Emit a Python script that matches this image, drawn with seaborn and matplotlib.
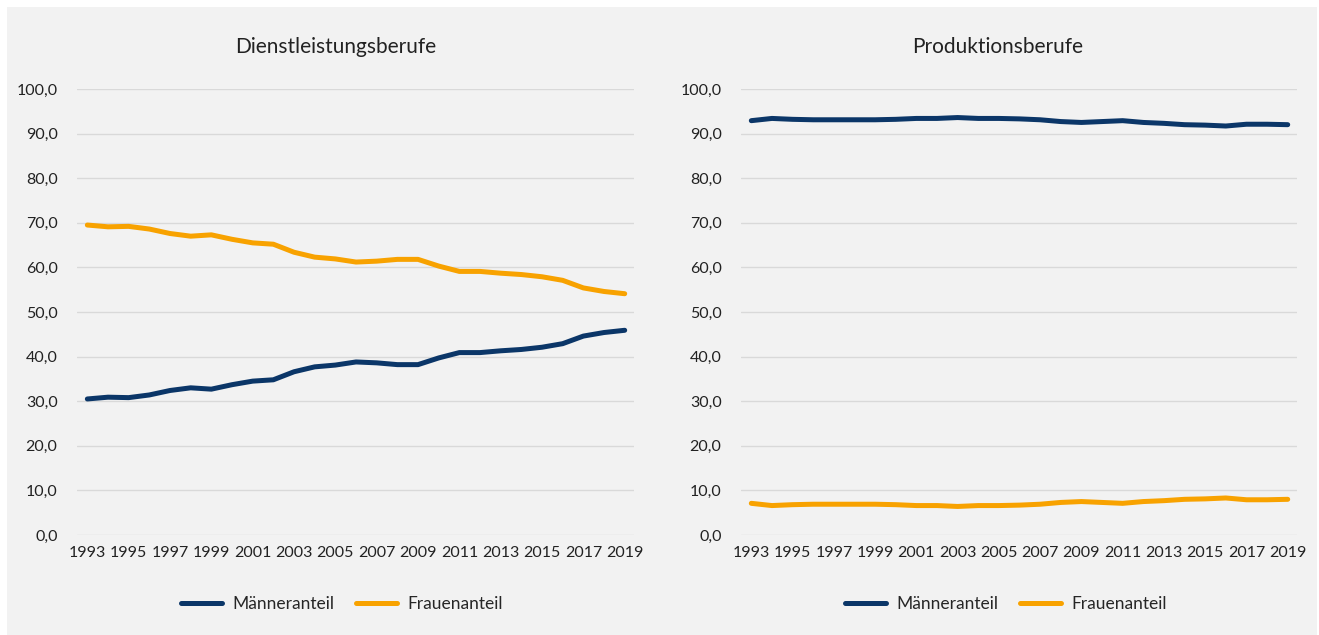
import numpy as np
import pandas as pd
import seaborn as sns
import matplotlib.pyplot as plt
from matplotlib.patches import Rectangle

# Data
years = list(range(1993, 2020))

dienst_maenner = [30.5, 30.9, 30.8, 31.4, 32.4, 33.0, 32.7, 33.7, 34.5, 34.8,
                  36.6, 37.7, 38.1, 38.8, 38.6, 38.2, 38.2, 39.7, 40.9, 40.9,
                  41.3, 41.6, 42.1, 42.9, 44.6, 45.4, 45.9]
dienst_frauen = [69.5, 69.1, 69.2, 68.6, 67.6, 67.0, 67.3, 66.3, 65.5, 65.2,
                 63.4, 62.3, 61.9, 61.2, 61.4, 61.8, 61.8, 60.3, 59.1, 59.1,
                 58.7, 58.4, 57.9, 57.1, 55.4, 54.6, 54.1]

prod_maenner = [92.9, 93.4, 93.2, 93.1, 93.1, 93.1, 93.1, 93.2, 93.4, 93.4,
                93.6, 93.4, 93.4, 93.3, 93.1, 92.7, 92.5, 92.7, 92.9, 92.5,
                92.3, 92.0, 91.9, 91.7, 92.1, 92.1, 92.0]
prod_frauen = [7.1, 6.6, 6.8, 6.9, 6.9, 6.9, 6.9, 6.8, 6.6, 6.6,
               6.4, 6.6, 6.6, 6.7, 6.9, 7.3, 7.5, 7.3, 7.1, 7.5,
               7.7, 8.0, 8.1, 8.3, 7.9, 7.9, 8.0]

series_names = ['Männeranteil', 'Frauenanteil']
panel_titles = ['Dienstleistungsberufe', 'Produktionsberufe']
color_palette = ['#0b3668', '#f8a200']

########################################################################

def make_long(maenner, frauen):
    df = pd.DataFrame({'Jahr': years * 2,
                       'Anteil': maenner + frauen,
                       'Gruppe': [series_names[0]] * len(years) + [series_names[1]] * len(years)})
    return df

df_dienst = make_long(dienst_maenner, dienst_frauen)
df_prod = make_long(prod_maenner, prod_frauen)

sns.set_style('white')
plt.rcParams['font.family'] = ['Lato', 'DejaVu Sans']

fig = plt.figure(figsize=(13.19, 6.35), dpi=100, facecolor='white')
# gray background behind both panels
fig.add_artist(Rectangle((7/1319, 0), 1310/1319, 628/635, transform=fig.transFigure,
                         facecolor='#f2f2f2', edgecolor='none', zorder=0))

ax_positions = [[77/1319, 1-535/635, 557/1319, 446/635],
                [741/1319, 1-535/635, 556/1319, 446/635]]
legend_x = [342/1319, 1006/1319]
title_x = [336/1319, 998/1319]

for idx, (df, title) in enumerate(zip([df_dienst, df_prod], panel_titles)):
    ax = fig.add_axes(ax_positions[idx])
    ax.set_facecolor('none')
    _ = sns.lineplot(df, x='Jahr', y='Anteil', hue='Gruppe', palette=color_palette,
                     linewidth=3.6, ax=ax, solid_capstyle='round')
    ax.set_xlim(1992.5, 2019.45)
    ax.set_ylim(0, 100)
    ax.set_yticks(np.arange(0, 101, 10))
    ax.set_yticklabels([f'{v:.1f}'.replace('.', ',') for v in np.arange(0, 101, 10)])
    ax.set_xticks(years[::2])
    ax.set_xticklabels([str(y) for y in years[::2]])
    ax.tick_params(axis='both', length=0, labelsize=11.5, colors='#222222')
    ax.tick_params(axis='y', pad=14)
    ax.tick_params(axis='x', pad=8)
    ax.grid(axis='y', color='#d9d9d9', linewidth=1)
    ax.set_axisbelow(True)
    for spine in ax.spines.values():
        spine.set_visible(False)
    ax.set_xlabel('')
    ax.set_ylabel('')
    # title centred on the panel rather than the axes
    fig.text(title_x[idx], 1-47/635, title, fontsize=15, color='#222222',
             ha='center', va='center')
    handles, labels = ax.get_legend_handles_labels()
    ax.get_legend().remove()
    fig.legend(handles, labels, loc='center', bbox_to_anchor=(legend_x[idx], 1-604/635),
               ncol=2, frameon=False, fontsize=12.5, handlelength=2.4, columnspacing=1.2,
               handletextpad=0.6)

plt.savefig('out.png', dpi=100)
plt.close(fig)
